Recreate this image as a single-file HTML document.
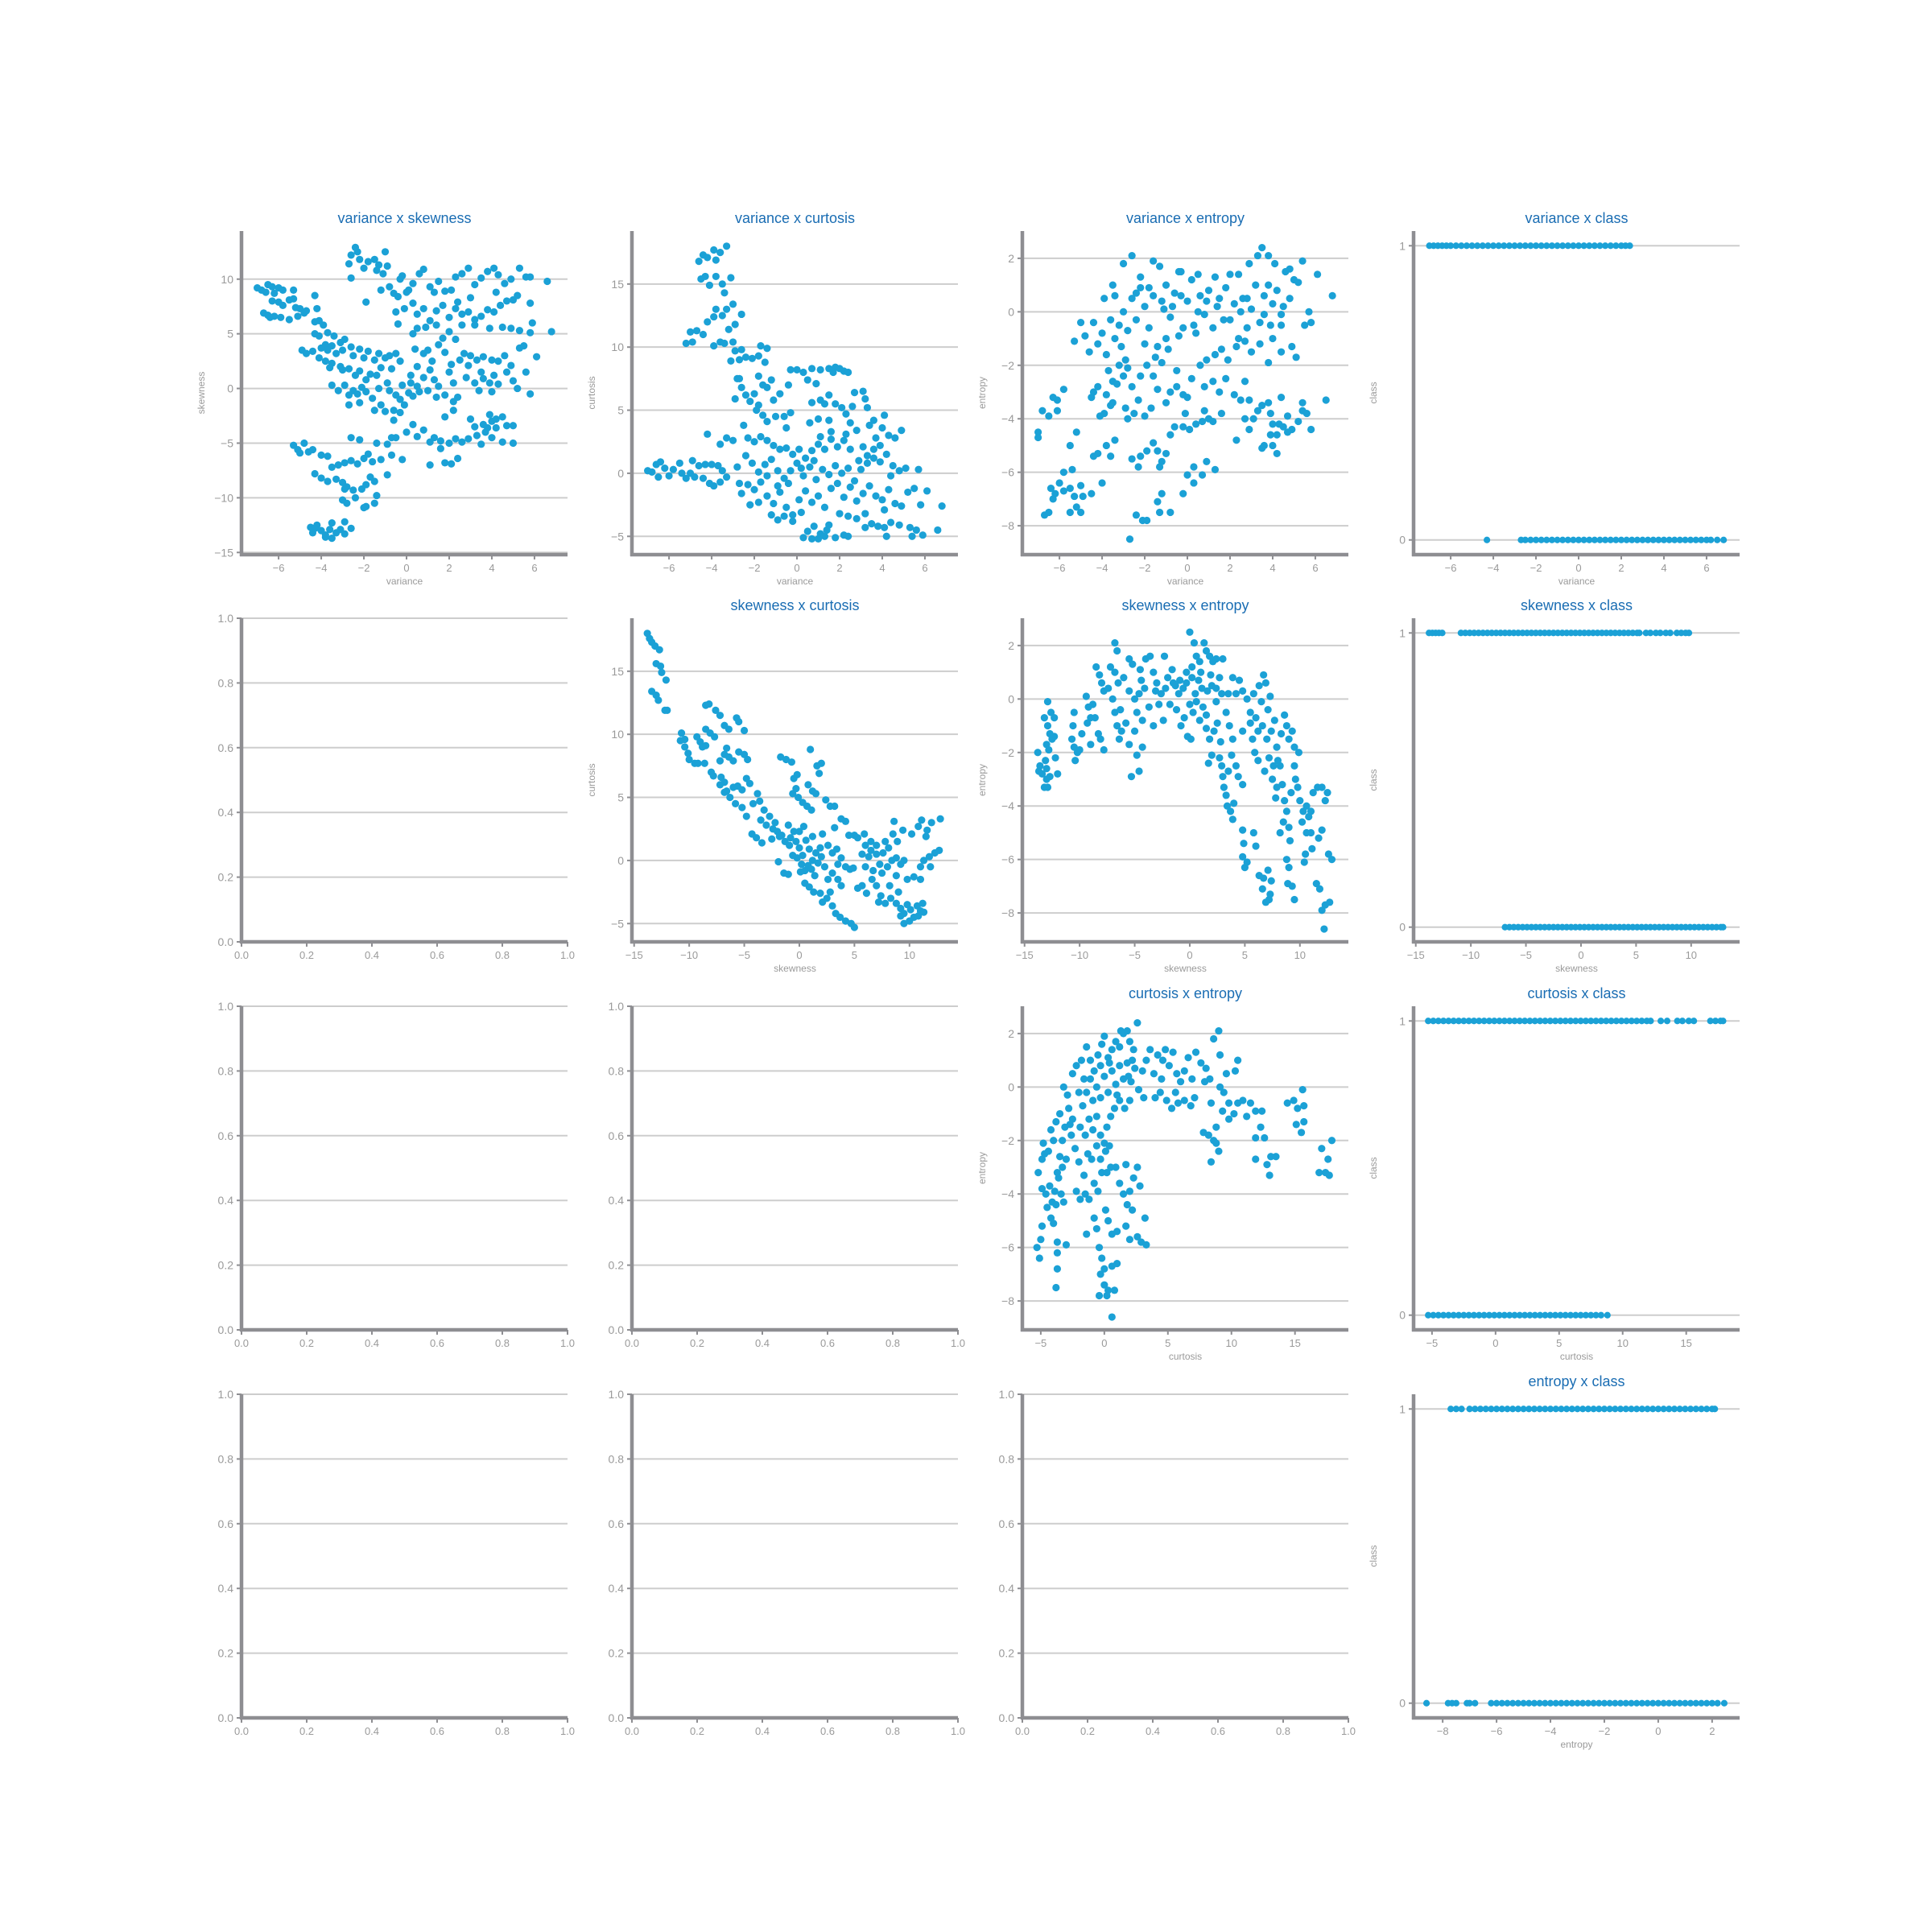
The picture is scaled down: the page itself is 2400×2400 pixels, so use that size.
<!DOCTYPE html>
<html><head><meta charset="utf-8"><title>Pairwise scatter plots</title>
<style>
html,body{margin:0;padding:0;background:#fff;}
svg{display:block;font-family:"Liberation Sans","DejaVu Sans",sans-serif;}
</style></head>
<body>
<svg id="chart" width="2400" height="2400" viewBox="0 0 2400 2400" xmlns="http://www.w3.org/2000/svg"></svg>
<script>
// ---------- DATA ----------
const varSkewPts = [[-7,9.2],[-6.8,9],[-6.5,9.5],[-6.3,9.3],[-6,9.2],[-5.8,9],[-6.6,8.8],[-6.2,8.7],[-6.3,8],[-6,7.9],[-5.8,7.6],[-5.5,8.1],[-5.3,8.2],[-5.2,7.4],[-5,7.3],[-4.8,6.9],[-5.1,6.6],[-6.7,6.9],[-6.5,6.7],[-6.4,6.5],[-6.2,6.6],[-5.9,6.5],[-5.5,6.3],[-4.7,7.1],[-4.3,8.5],[-5.3,9],[-4.2,7.3],
[-4.3,6.1],[-4.1,6.2],[-3.9,5.8],[-4.3,5],[-4.1,4.8],[-3.7,5.1],[-3.4,4.8],[-3.8,4],[-3.5,3.9],[-3.1,4.2],[-2.9,4.5],[-2.6,3.8],[-2.2,3.6],[-1.8,3.4],[-1.3,3.2],[-0.8,3],[-0.5,3.2],[-4.9,3.5],[-4.7,3.2],[-4.4,3.4],[-4,3.7],[-3.7,3.5],[-3.3,3.2],[-3,3.5],[-2.5,3],[-2,2.8],[-1.5,2.6],[-1,2.8],[-0.3,2.5],[-4.1,2.8],[-3.8,2.5],[-3.5,2.3],[-3.1,2],[-2.7,1.8],[-2.2,1.6],[-1.7,1.3],[-1.2,1.9],[-0.7,1.8],[-3.6,1.9],[-3,1.7],[-2.4,1.2],[-1.9,0.8],[-1.4,1.2],[-0.9,0.5],
[-3.5,0.3],[-3.2,-0.2],[-2.9,0.3],[-2.7,-0.6],[-2.5,-0.2],[-2.3,-0.5],[-2.1,0.1],[-1.9,-0.3],[-1.6,-0.9],[-1.3,0],[-1.2,-1.5],[-1.5,-2],[-1,-2.1],[-2.7,-1.5],[-2.2,-1.3],[-0.8,-0.2],[-0.5,-0.6],[-0.3,-1],[-0.1,-1.5],[0.1,-0.4],[0.3,-0.7],[0.5,0.2],[0.2,0.5],[-0.2,0.3],[-0.6,-2],[-0.3,-2.2],
[0.2,1.2],[0.5,2],[0.8,1],[1,3.5],[1.2,2.5],[1.5,4],[1.8,3.3],[2,1.5],[2.2,0.5],[1.5,0.2],[0.8,3.2],[0.4,3.6],[1.7,4.6],[2.3,4.5],[1.3,0.8],[1,-0.2],[1.8,-0.6],[2.2,-1.2],[2.5,2.6],[2.7,3.2],[3,3],[3.3,2.6],[3.6,2.9],[4,2.6],[4.3,2.5],[4.6,3],[4.9,2.1],[2.8,1],[3.2,0.5],[3.6,0.9],[3.9,0.5],[4.1,1.2],[4.3,0.4],[4.7,1.5],[5,0.7],[5.2,0],[5.3,3.7],[5.5,3.9],[5.6,1.5],[5.8,-0.5],[6.1,2.9],[3.4,-0.2],[4,-0.3],[2.4,-0.8],[2.9,2.1],[3.5,1.5],[1.4,-0.8],[0.6,-0.3],[2.1,2.2],[1.1,1.7],
[-0.2,10.3],[0.1,9],[0.3,9.6],[0.6,10.5],[0.8,10.9],[1.1,9.3],[1.3,8.8],[1.5,9.8],[1.8,8.9],[2.1,9],[2.3,10.2],[2.6,10.5],[2.9,11],[3.2,9.5],[3.5,10.1],[3.8,10.7],[4.1,11],[4.3,10.4],[4.6,9.6],[4.9,10],[5.3,11],[5.6,10.2],[5.8,10.2],[6.6,9.8],[-0.4,8.4],[-0.1,7.3],[0.3,7.8],[0.5,6.8],[0.8,7.3],[1.1,6.2],[1.4,7.1],[1.7,7.6],[2,6.5],[2.3,7.3],[2.6,6.8],[2.9,7],[3.2,6.3],[3.5,6.6],[3.8,7.2],[4.1,7],[4.4,7.6],[4.7,8],[5,8.1],[5.2,8.5],[5.8,7.8],[5.9,6],[5.8,5.1],[6.8,5.2],[5.3,5.3],[4.9,5.5],[4.5,5.6],[3.9,5.5],[3.2,5.8],[2.6,5.8],[2,5.2],[1.4,5.8],[0.9,5.6],[0.3,5],[-0.4,5.9],[-0.5,7],[0,8.8],[4.2,8.8],[3,8.3],[2.4,7.9],[0.5,5.5],
[-2.6,10.1],[-2.7,11.4],[-2.6,12.2],[-2.3,12.5],[-2.4,12.9],[-2.2,11.8],[-2,11],[-1.8,11.6],[-1.5,11.8],[-1.3,11.3],[-1.4,10.8],[-1.1,10.5],[-0.9,11.2],[-1,12.5],[-0.8,9.3],[-0.6,8.7],[-1.2,9],[-1.9,7.9],[-0.3,10],
[3,-2.8],[3.2,-3.5],[3.6,-3.3],[3.9,-2.4],[4,-3],[4.2,-3.6],[4.5,-2.6],[4.7,-3.4],[3.7,-4],[3.3,-4.3],[2.9,-4.6],[2.6,-4.9],[2.3,-4.6],[2,-5],[1.6,-4.8],[1.3,-4.5],[1.1,-4.9],[4,-4.5],[4.5,-4.9],[5,-5],[5,-3.4],[3.5,-5.1],[2.4,-6.4],[2.1,-6.9],[1.8,-6.8],[1.6,-5.5],[1.1,-7],[0.8,-3.8],[0.5,-4.4],[0.3,-3.3],[0,-4],[-0.2,-6.5],[1.8,-2.6],[2.2,-2],[4.2,-2.8],[3.8,-3.6],
[-5.3,-5.2],[-5.1,-5.6],[-4.8,-5],[-5,-5.9],[-4.6,-5.8],[-4.4,-5.6],[-4,-6.1],[-3.7,-6.2],[-3.5,-7.2],[-3.2,-7],[-2.9,-6.8],[-2.6,-6.6],[-2.3,-6.9],[-2,-6.4],[-1.8,-6],[-1.6,-6.7],[-1.4,-5],[-2.6,-4.5],[-2.2,-4.7],[-1.2,-6.5],[-0.9,-5.1],[-0.7,-4.5],[-0.7,-6.1],[-0.9,-7.9],[-0.5,-4.5],[-0.6,-2.9],[-4.3,-7.8],[-4,-8.2],[-3.7,-8.5],[-3.3,-8.3],[-3,-8.6],[-2.8,-9],[-2.5,-9.3],[-2.1,-9.2],[-1.9,-8.8],[-1.7,-8.1],[-1.5,-8.5],[-1.4,-9.8],[-1.5,-10.5],[-1.9,-10.8],[-2,-10.9],[-2.4,-10],[-2.8,-10.5],[-3,-10.2],[-2.9,-9.2],
[-4.5,-12.7],[-4.4,-13.2],[-4.2,-12.5],[-4,-13],[-3.8,-13.4],[-3.6,-12.9],[-3.5,-12.3],[-3.3,-13.2],[-3.1,-12.9],[-2.9,-13.3],[-2.9,-12.2],[-2.6,-12.8],[-3.8,-13.6],[-3.5,-13.7],[-4.3,-12.8]];

const varCurtPts = [[-7,0.2],[-6.8,0.1],[-6.6,0.7],[-6.4,0.9],[-6.2,0.4],[-6,-0.2],[-5.8,0.3],[-5.5,0.8],[-5.4,0],[-5.2,-0.4],[-5,0],[-4.8,-0.3],[-4.9,1],[-4.6,0.6],[-4.3,0.7],[-4,0.7],[-3.7,0.6],[-3.5,0.2],[-4.4,-0.4],[-4.1,-0.8],[-3.9,-1],[-3.6,-0.7],[-3.3,-0.3],[-6.5,-0.3],[-4.2,3.1],[-3.6,2.3],[-3.3,2.8],[-3,2.6],[-2.8,0.5],[-2.7,-0.8],
[-5.2,10.3],[-4.9,10.4],[-5,11.2],[-4.7,11.3],[-4.4,11],[-4.2,12],[-3.9,12.4],[-3.8,13],[-3.5,12.5],[-3.3,13],[-4.5,15.4],[-4.3,15.6],[-4.1,14.9],[-3.8,15.6],[-3.5,15],[-3.4,14.3],[-3.1,15.5],[-4.6,16.8],[-4.4,17.3],[-4.2,17.1],[-3.9,17.7],[-3.6,17.5],[-3.3,18],[-3.8,16.9],[-3,13.4],[-2.6,12.6],[-3.9,10.1],[-3.6,10.4],[-3.4,10.3],[-3.2,11.4],[-2.9,11.8],[-3,10.4],[-2.9,9.7],[-3.1,8.9],[-2.7,9],[-2.4,9.2],[-2.1,9.1],[-1.8,9.3],[-1.7,10.1],[-1.4,9.9],[-1.5,8.8],[-2.6,9.8],
[-2.8,7.5],[-2.6,6.8],[-2.4,6.2],[-2.2,5.7],[-2,6.3],[-1.8,7.7],[-1.6,7],[-1.4,6.8],[-1.2,7.4],[-1.8,5.4],[-1.6,4.6],[-1.4,4.1],[-1,4.5],[-0.6,4.5],[-0.3,4.8],[-0.8,6.3],[-0.4,7],[-0.3,8.2],[0,8.2],[0.3,8],[0.5,7.4],[-0.5,3.6],[-2.9,5.9],[-2.7,7.5],[-1.9,5],[-1.1,5.8],
[1.5,8.3],[1.8,8.4],[2,8.3],[2.2,8.1],[2.4,8],[1.7,8],[1.1,8.2],[0.7,8.3],[0.9,7.1],[0.7,5.6],[1.1,5.8],[1.3,5.5],[1.5,6.2],[1.8,5.5],[2.1,5.2],[2.3,4.7],[2.6,5.3],[2.7,6.4],[3.1,6.5],[3.2,5.9],[3.3,5.2],[0.6,4],[1,4.3],[1.5,4.2],
[-2.5,3.8],[-2.3,2.8],[-2,2.5],[-1.7,2.9],[-1.4,2.6],[-1.1,2.2],[-0.8,1.9],[-0.5,2],[-0.2,1.5],[0.1,1.9],[0.4,1.2],[0.7,1.8],[1,2.3],[1.3,1.9],[1.6,2.7],[1.9,2.1],[2.2,2.6],[2.5,1.9],[2.8,3.4],[3.1,2.1],[3.4,3.8],[3.7,2.8],[4,3.6],[4.3,3],[4.6,2.8],[4.9,3.4],[3.6,4.2],[4.1,4.6],[-2.4,1.4],[-2.1,0.8],[-1.8,0.1],[-1.5,0.7],[-1.2,1.1],[-0.9,0.2],[-0.6,-0.4],[-0.3,0.2],[0,0.8],[0.3,-0.2],[0.6,0.5],[0.9,-0.5],[1.2,0.3],[1.5,-0.1],[1.8,0.6],[2.1,0],[2.4,0.4],[2.7,-0.6],[3,0.3],[3.3,0.8],[3.6,1.2],[3.9,0.9],[4.2,1.5],[4.5,0.6],[4.8,0.2],[5.1,0.4],[5.7,0.3],[-2.3,-0.9],[-2,-1.3],[-1.7,-0.7],[-1.4,-1.8],[-1.1,-2.4],[-0.8,-1.5],[-0.5,-2.7],[-0.2,-3.3],[0.1,-2.1],[0.4,-1.4],[0.7,-2.3],[1,-1.8],[1.3,-2.7],[1.6,-1.2],[1.9,-0.8],[2.2,-1.9],[2.5,-1.1],[2.8,-2.2],[3.1,-1.6],[3.4,-1],[3.7,-1.8],[4,-2.1],[4.3,-1.3],[4.6,-2.4],[4.9,-2.6],[5.2,-1.5],[5.5,-1.2],[5.8,-2.5],[6.1,-1.4],[6.8,-2.6],[-2.6,-1.6],[-2.2,-2.5],[-1.8,-2.3],[-1.2,-3.3],[-0.9,-3.7],[-0.6,-3.4],[-0.2,-3.8],[0.2,-3.1],[0.5,-4.6],[0.8,-4.2],[1.1,-4.8],[1.4,-4.5],[0.3,-5.1],[0.7,-5.2],[1,-5.2],[1.3,-5],[1.8,-5.1],[2.2,-4.9],[2.4,-5],[1.5,-4.1],[2,-3.2],[2.4,-3.4],[2.8,-3.6],[3.2,-3.2],[3.5,-4],[3.8,-4.2],[4.1,-4.3],[4.4,-3.9],[4.8,-4.1],[5.3,-4.3],[5.6,-4.5],[5.9,-4.9],[6.6,-4.5],[4.2,-5],[5.4,-5],[3.2,-4.3],[4.1,-2.9],[3.9,2.2],[3.6,1.9],[3.3,1.4],[4.4,-0.2],[2.9,1],[0.8,1],[-0.4,-0.8],[-1.4,-0.2],[1.1,2.9],[1.6,3.3],[2.5,4],[2.3,3.1],[0.2,0.4],[-0.9,-1]];

const varEntPts = [[-7,-4.5],[-7,-4.7],[-6.8,-3.7],[-6.5,-3.9],[-6.3,-3.2],[-6.1,-3.3],[-6.1,-3.7],[-5.8,-2.9],[-6.2,-6.8],[-6,-6.4],[-5.8,-6],[-5.8,-6.7],[-6.7,-7.6],[-6.5,-7.5],[-6.4,-6.6],[-6.3,-7],[-5.5,-6.6],[-5.4,-5.9],[-5.5,-5],[-5.2,-4.5],[-5.3,-6.9],[-5.2,-7.3],[-5,-7.5],[-5.5,-7.5],[-5,-6.5],[-4.9,-6.9],[-4.5,-6.8],[-4.4,-5.4],[-4.2,-5.3],[-4,-6.4],[-3.8,-5],[-3.6,-5.4],[-3.4,-4.8],[-4.1,-3.9],[-3.9,-3.8],[-3.6,-3.5],[-3.5,-3.4],[-4.4,-3],[-4.5,-3.2],[-4.2,-2.8],[-3.8,-3.1],[-3.7,-2.2],[-3.5,-2.6],[-3.3,-2.7],[-3.2,-2],[-3,-2.4],[-2.8,-2.1],[-2.9,-3.6],[-2.8,-4],[-2.6,-5.5],[-2.3,-5.8],[-2.2,-5.4],[-2.4,-7.6],[-2.1,-7.8],[-1.9,-7.8],[-2.7,-8.5],[-1.9,-5.2],[-1.6,-4.9],[-1.4,-5.2],[-1.2,-5.6],[-1.3,-5.8],[-1.4,-7.1],[-1.2,-6.8],[-0.8,-7.5],[-1.3,-7.5],[-1,-5.3],[-0.8,-4.6],[-0.2,-6.8],[0,-6.1],[0.3,-5.8],[0.3,-6.4],[0.7,-6.1],[0.9,-5.6],[1.3,-5.9],[-0.6,-4.3],[-0.2,-4.3],[0.1,-4.4],[-0.1,-3.8],[0.4,-4.2],[0.7,-4.1],[1,-4],[1.2,-4.1],[0.8,-3.7],[-2.5,-3.8],[-2.3,-3.3],[-2,-3.9],[-1.7,-3.6],[-1.4,-2.9],[-1,-3.4],[-0.8,-3],[-0.5,-2.8],[-0.2,-3.1],[0.2,-2.5],[0,-3.2],[-2.6,-2.8],[-2.2,-2.4],[-1.9,-2],[-1.6,-2.4],[-1.2,-1.9],[-0.5,-2.2],[0.6,-2],[0.8,-2.8],[1.2,-2.6],[1.5,-3],[1.8,-2.5],[2.2,-3.1],[2.5,-3.3],[2.7,-2.6],[2.9,-3.3],[1.6,-3.8],
[-5.3,-1.1],[-5,-0.4],[-4.8,-0.9],[-4.6,-1.5],[-4.4,-0.4],[-4.2,-1.2],[-4,-0.8],[-3.8,-1.6],[-3.6,-0.3],[-3.4,-1],[-3.2,-0.5],[-3,0],[-3.1,-1.3],[-2.8,-0.7],[-2.6,0.5],[-2.4,-0.3],[-2.2,0.9],[-2,0.2],[-1.8,-0.6],[-1.6,0.6],[-1.4,-1.3],[-1.2,0.4],[-1,1],[-0.8,-0.2],[-0.6,0.7],[-0.4,1.5],[-0.2,-0.6],[0,0.4],[0.2,1.2],[0.4,-0.8],[0.6,0.6],[0.8,-0.1],[1,0.8],[1.2,-0.6],[1.4,0.2],[1.6,-1.4],[1.8,0.9],[2,-0.3],[2.2,0.3],[2.4,-1],[2.6,0.5],[2.8,-0.6],[3,0.1],[3.2,1],[3.4,-0.4],[3.6,0.6],[3.8,1],[4,0.3],[4.2,0.8],[4.4,-0.5],[4.6,1.5],[4.8,0.5],[5,1.2],[5.2,1.1],[5.5,-0.5],[5.7,0],[5.8,-0.4],[6.1,1.4],[6.8,0.6],[3.5,2.4],[3.3,2.1],[3.8,2.1],[4.1,1.8],[4.8,1.6],[5.4,1.9],[2.9,1.8],[-2.6,2.1],[-3,1.8],[-1.6,1.9],[-1.3,1.7],[-2.2,1.3],[-0.3,1.5],[0.5,1.4],[1.3,1.3],[2,1.4],[2.4,1.4],[-3.5,1],[-3.4,0.6],[-3.9,0.5],[-1.5,-1.7],[-0.9,-1.4],[-0.4,-0.9],[0.3,-0.5],[0.9,-1.8],[1.3,-1.6],[1.9,-1.8],[2.3,-1.3],[2.7,-1.1],[3,-1.5],[3.4,-1.2],[4,-1],[4.4,-1.5],[4.9,-1.3],[5.1,-1.7],[3.8,-1.9],[-2.9,-1.8],[-1,-1],[0.5,0],[1.5,0.5],[2.5,0],[-2,-1.2],[4.4,-0.1],[3.6,-0.1],[-1.8,0.9],[-1.1,0.1],[-0.3,0.6],[0.9,0.4],[1.7,-0.3],[2.8,0.5],[3.9,-0.5],[4.5,0.2],[-2.4,0.7],[-0.7,0.2],
[3.3,-3.7],[3.5,-3.5],[3.8,-3.4],[3.9,-3.8],[4,-4.2],[4.2,-4.6],[4,-5],[3.9,-4.6],[3.5,-5.1],[3.6,-5],[4.3,-4.2],[4.5,-4.3],[4.7,-3.9],[4.9,-4.4],[4.7,-4.5],[5.2,-4.1],[5.4,-3.7],[5.6,-3.8],[5.8,-4.4],[5.4,-3.4],[4.4,-3.2],[2.7,-4],[2.9,-4.4],[3.1,-4],[2.3,-4.8],[6.5,-3.3],[4.2,-5.3]];

const skewCurtPts = [[-13.8,18],[-13.6,17.6],[-13.4,17.3],[-13.1,17],[-12.7,16.7],[-13,15.6],[-12.6,15.4],[-12.5,14.9],[-12.1,14.3],[-13.4,13.4],[-13,13.1],[-12.8,12.7],[-12,11.9],[-12.2,11.9],
[-10.7,10.1],[-10.4,9.6],[-10.8,9.5],[-10.4,9],[-10.1,8.5],[-10,8],[-9.5,7.7],[-9.2,7.7],[-9.3,9.8],[-9,9.4],[-8.8,9],[-8.5,9.1],[-8.6,7.7],[-8,7],[-7.8,6.7],[-8.5,12.3],[-8.2,12.4],[-7.6,11.9],[-7.2,11.5],[-6.8,10.7],[-6.4,10.4],[-5.7,11.3],[-5.5,11],[-5,10.3],[-8.5,10.4],[-8.1,10.1],[-7.7,9.8],[-7.2,7.9],[-6.8,8.4],[-6.6,8.9],[-6.4,8.2],[-6,7.9],[-5.5,8.6],[-5,8.4],[-4.7,8],[-7.1,6.6],[-6.8,6.2],[-6.6,5.5],[-6.3,5],[-6,5.8],[-5.6,5.9],[-5.2,5.6],[-4.8,6.5],[-4.5,6.1],[-7.2,6],[-6.8,5.4],[-5.8,4.5],[-5.2,4.2],[-4.8,3.5],[-4.2,4.5],[-3.8,5.3],[-3.6,4.7],[-3.2,4],[-3.5,3.2],[-3,2.8],[-2.7,3.5],[-2.4,2.5],[-2,2.3],[-1.6,2],[-1.3,1.5],[-0.9,1.2],[-4.3,2.1],[-3.9,1.8],[-3.4,1.4],[-2.5,1.7],[-1.8,1.9],[-1,2.8],[-0.5,2.3],[-0.3,1.5],[0,1],[0.3,0.4],[0.6,1.6],[0.9,0.9],[1.2,1.9],[1.5,0.6],[0.2,-0.3],[-0.2,0.2],[0.5,-0.8],[0.8,-0.4],[1.1,-0.7],[1.4,-1.2],[1.7,-0.2],[2,0.3],[2.3,-0.5],[0.5,-1.8],[0.9,-2.1],[1.3,-2.5],[1.9,-2.6],[2.1,-3.3],[2.5,-3],[3,-3.6],[3.3,-4.2],[3.7,-4.5],[4.2,-4.8],[4.7,-5],[5,-5.3],[-1.9,-0.1],[-1.4,-1],[-1,-1.1],[-1.7,8.2],[-1.2,8],[-0.7,7.8],[-0.5,6.5],[-0.2,6.8],[1,8.8],[1.6,7.5],[1.8,6.9],[2,7.7],[0.8,6],[1.2,5.5],[1.5,5.3],[-0.6,5.3],[-0.3,5.7],[-0.1,5],[0.3,4.6],[0.7,4.3],[1.1,4],[2.4,4.8],[2.8,4.3],[3.2,4.3],[3.8,3.3],[4.2,3.1],[2.1,2.1],[2.6,1.2],[3,0.6],[3.4,0.9],[3.8,0.2],[4.2,-0.5],[4.6,-0.7],[4.9,-0.6],[5.3,-2.2],[5.7,-2],[6.1,-2.6],[3,-1],[3.5,-1.5],[3.8,-2],[2.8,-2.5],[3.2,2.6],[4.5,2],[5.3,1.8],[5.9,2.1],[6.5,1.5],[7,1.2],[5.7,0.5],[6,-0.5],[6.3,0.3],[6.7,-0.8],[7,0.5],[7.3,-0.3],[7.6,0.6],[8,-0.5],[8.4,0],[8.8,0.2],[9.2,-0.3],[9.5,0],[6.6,-1.5],[7,-2],[7.4,-2.8],[7.8,-3.4],[8.3,-3],[8.8,-3.4],[9.2,-3.8],[9.5,-4.2],[9.8,-3.5],[10.1,-3.9],[10.4,-4.5],[10.7,-3.6],[11,-4],[11.2,-3.4],[10,-4.8],[9.5,-5],[9.2,-4.4],[10.8,-4.4],[11.3,-4.1],[9.8,-1.5],[10.4,-1.3],[11,-1.5],[8.8,-1.2],[8.9,1.5],[8.5,2.1],[8.6,3.1],[9.4,2.4],[10.2,2.1],[10.8,2.7],[11.1,3.2],[11.6,2.4],[12,3],[12.8,3.3],[11.5,1.9],[11.3,0],[11.8,0.3],[12.3,0.6],[12.7,0.8],[11,-0.5],[11.9,-0.5],[7.2,-3.3],[5,2],[7.8,1.5],[8.1,1],[6,1.2],[0,2.3],[0.4,2.7],[-0.6,0.4],[1.2,0],[2.6,-1.5],[1.9,1],[3.5,-0.3],[6.5,0.8],[7.5,-1],[8.2,-2],[9,-2.5],[0.1,-0.9],[-0.8,1.8],[-2.2,3]];

const skewEntPts = [[-13.8,-2],[-13.6,-2.5],[-13.7,-2.7],[-13.4,-2.8],[-13.2,-3.3],[-12.9,-3.3],[-13,-3],[-12.7,-2.9],[-13,-2.6],[-12.8,-1.9],[-13,-1.7],[-12.9,-1],[-12.7,-1.3],[-12.5,-1.5],[-12.3,-1.4],[-13.2,-0.7],[-12.6,-0.5],[-12.3,-0.7],[-12.9,-0.1],[-12.2,-2.2],[-12,-2.8],[-13.1,-2.3],
[-10.7,-1.5],[-10.5,-1.8],[-10.4,-2.3],[-10.2,-2],[-10,-1.9],[-10.5,-0.5],[-10.6,-1],[-9.8,-1.3],[-9.4,0.1],[-9.2,-0.3],[-9,-0.7],[-8.8,-0.2],[-8.6,-0.7],[-9.3,-0.9],[-9,-1.7],[-8.3,-1.3],[-8.1,-1.5],[-7.8,-1.9],[-8.5,1.2],[-8.2,0.9],[-8,0.6],[-7.8,0.3],[-7.4,0.4],[-7.2,1.2],[-7,0],[-6.8,2.1],[-6.6,1.8],[-6.8,1],[-6.5,0.6],[-6.3,-0.4],[-6,0.8],[-6.8,-0.5],[-6.6,-1],[-6.2,-1.2],[-6.4,-1.5],[-5.8,-0.9],[-5.5,0.3],[-5.5,1.5],[-5.2,1.3],[-5,0],[-4.8,-0.5],[-4.6,0.2],[-4.5,1.1],[-4.3,-0.8],[-4.1,0.4],[-5.5,-1.7],[-5.3,-2.9],[-4.6,-2.7],[-4.8,-2.1],[-4.3,-1.8],[-5,-1.2],[-4,1.5],[-3.6,1.6],[-3.3,1],[-3,0.6],[-2.6,0.2],[-2.3,1.6],[-2,0.8],[-1.6,1.1],[-1.3,0.5],[-1,0.2],[-0.6,0.4],[-0.3,1],[0,2.5],[0.2,1.2],[0.4,2.1],[0.6,1.6],[0.8,0.7],[1,1],[1.3,2.1],[1.5,1.8],[1.8,1.6],[2.1,1.4],[2.4,1.5],[2.7,0.8],[3,1.5],[-3.7,-0.3],[-3.3,-1],[-2.8,-0.2],[-2.4,-0.8],[-1.8,-0.2],[-1.2,-0.4],[-0.5,-0.7],[-0.8,-1],[0,-0.2],[0.3,-0.5],[0.6,-0.1],[0.9,-0.8],[1.2,-0.3],[1.5,-0.6],[-0.2,-1.4],[0.1,-1.5],[1.5,-1.1],[1.8,-1.5],[2,-2.1],[2.2,-1.2],[2.5,-0.9],[2.8,-1.6],[1.7,-2.4],[2.7,-2.2],[2.9,-2.5],[3,-2.9],[3.1,-3.3],[3.3,-3.6],[3.4,-4],[3.7,-4.2],[3.9,-4.5],[4,-3.9],[3.5,-2.7],[3.8,-2.1],[4.2,-2.5],[4.4,-2.9],[3.9,-1.5],[3.6,-1],[3.3,-0.5],[3.5,0.2],[3.9,0.8],[4.2,0.2],[4.5,0.7],[4.8,0.3],[2.9,0.2],[2.4,-0.1],[2,0.5],[1.6,0.3],[4.8,-3.2],[4.8,-4.9],[4.9,-5.4],[4.8,-5.9],[5,-6.3],[5.2,-6.1],[5.8,-5],[6,-5.5],[6.3,-6.6],[6.7,-6.7],[6.6,-7.1],[6.9,-7.6],[7.2,-7.5],[7.3,-7.3],[7.4,-6.8],[7.1,-6.4],
[5.2,0],[5.5,-0.5],[5.8,0.2],[6,-0.7],[6.3,0.5],[6.5,-0.1],[6.7,0.9],[6.9,0.6],[7.1,-0.4],[7.3,0.1],[6.2,-1.2],[6.6,-1],[7,-1.5],[7.4,-1.2],[7.7,-0.8],[7.9,-1.8],[8.3,-1.3],[8.6,-0.6],[8.8,-1],[9,-1.5],[9.3,-1.2],[9.5,-1.8],[8,-2.3],[8.2,-2.5],[7.6,-2.5],[7.2,-2.2],[6.8,-2.7],[6.2,-2.3],[5.9,-2],[7.5,-3],[7.9,-3.3],[8.4,-3.2],[7.8,-3.7],[8.6,-3.8],[8.8,-4.2],[9.2,-3.5],[9.6,-3],[9.8,-3.3],[10,-3.8],[10.3,-4.2],[10.6,-4],[10.8,-4.4],[11,-4.2],[11.2,-3.5],[11.6,-3.3],[12,-3.3],[12.5,-3.5],[10.2,-4.6],[10.6,-5],[11,-5],[10.5,-5.8],[10.4,-6.1],[11.1,-5.6],[11.7,-5.2],[12,-4.9],[12.3,-3.8],[12.6,-5.8],[12.9,-6],[9,-4.8],[9.1,-5.3],[8.5,-4.6],[8.2,-5],[8.8,-6],[9,-6.3],[8.9,-6.9],[9.3,-7],[9.5,-7.5],[11.5,-6.9],[11.8,-7.1],[12,-7.9],[12.3,-7.7],[12.7,-7.6],[12.2,-8.6],[9.5,-2.5],[9.9,-2],[5.5,-0.9],[5.7,-1.5],[4.8,-1.2],[-0.3,0.6],[0.5,0.2],[1.1,0.4],[-1.5,0.6],[-2.2,0.4],[0.9,1.4],[0.2,0.8],[1.9,0.9],[-3.1,0.3],[-4.4,0.7],[2.4,0.4],[-0.9,0.7]];

const curtEntPts = [[-5.3,-6],[-5.1,-6.4],[-5,-5.7],[-4.9,-5.2],[-5.2,-3.2],[-4.9,-2.7],[-4.7,-2.5],[-4.4,-2.4],[-4.8,-2.1],[-4.9,-3.8],[-4.6,-4],[-4.5,-4.5],[-4.3,-3.7],[-4.1,-4.3],[-3.9,-3.9],[-4.2,-4.9],[-4,-5.1],[-3.8,-4.4],[-3.6,-3.4],[-3.4,-4],[-3.2,-4.3],[-3.7,-3.2],[-3.3,-3],[-3,-2.7],[-3.5,-2.6],[-4,-2],[-4.2,-1.6],[-3.8,-1.3],[-3.5,-1],[-3.1,-1.5],[-2.8,-0.8],[-2.5,-1.2],[-2.9,-0.3],[-3.2,0],[-2.5,0.5],[-2.2,0.8],[-1.8,1],[-1.4,1.5],[-2,-0.2],[-1.7,-0.7],[-1.4,-0.2],[-1.1,0.3],[-0.8,0.6],[-0.5,1.2],[-0.2,1.6],[0,1.9],[0.3,1.1],[0.6,1.4],[0.9,1.7],[1.2,1.5],[1.5,2],[1.8,2.1],[2,1.7],[2.3,1.4],[2.6,2.4],[-0.6,0],[-0.3,-0.4],[0,0.4],[0.3,-0.2],[0.6,0.6],[0.9,0.1],[1.2,0.8],[1.5,0.3],[1.8,0.9],[2.1,0.2],[2.4,0.7],[2.7,-0.1],[3,0.6],[3.3,1],[3.6,1.4],[3.9,0.5],[4.2,1.2],[4.5,0.3],[4.8,1.4],[5.1,0.8],[5.4,1.3],[5.7,0.5],[6,0.2],[6.3,0.6],[6.6,1.1],[6.9,0.3],[7.2,1.3],[7.6,0.9],[8,0.7],[8.3,0.3],[8.6,1.8],[9,2.1],[9.1,1.2],[4,-0.4],[4.4,-0.2],[4.9,-0.5],[5.3,-0.8],[5.8,-0.6],[6.3,-0.5],[6.8,-0.7],[7.1,-0.4],[-1.9,-1.5],[-1.5,-1.8],[-1.2,-1.2],[-0.9,-1.6],[-0.6,-1.1],[-0.3,-1.8],[0,-2.1],[0.2,-1.5],[0.5,-1.1],[0.8,-0.8],[1.2,-0.5],[1.6,-0.8],[2,-0.5],[-2.3,-2.3],[-2,-2.8],[-1.6,-3.3],[-1.3,-2.5],[-1,-2.7],[-0.6,-2.2],[-0.3,-2.7],[0.1,-2.4],[0.4,-2.2],[-2.2,-3.9],[-1.9,-4.2],[-1.5,-4],[-1.2,-4.2],[-0.8,-3.6],[-0.5,-3.9],[-0.2,-3.2],[0.2,-3.2],[0.5,-3],[0.9,-3],[1.2,-3.6],[1.5,-4],[1.7,-2.9],[2.3,-3.4],[2.6,-3],[2.8,-3.7],[2,-3.9],[2.2,-4.6],[1.8,-4.4],[-1.4,-5.5],[-0.6,-5.3],[-0.8,-4.9],[0.1,-4.6],[0.3,-5],[0.6,-5.5],[1,-5.4],[1.7,-5.2],[2,-5.7],[2.6,-5.6],[2.9,-5.8],[3.3,-5.9],[3.2,-4.9],[-0.4,-6],[-0.2,-6.4],[0,-6.8],[-0.3,-7],[0,-7.4],[0.3,-7.6],[0.6,-6.7],[1,-6.6],[0.8,-7.6],[-0.4,-7.8],[0.2,-7.8],[0.6,-8.6],[-3.7,-5.8],[-3.7,-6.2],[-3.7,-6.8],[-3.8,-7.5],[-3,-5.9],[7.8,-1.7],[8.2,-1.8],[8.6,-2],[8.8,-2.1],[9,-2.4],[8.4,-2.8],[8.8,-1.5],[9.3,-0.9],[9.8,-0.6],[10.2,-1],[10.5,-0.6],[10.9,-0.5],[11.2,-1.1],[11.5,-0.6],[11.9,-0.9],[11.9,-1.9],[12.3,-1.5],[12.6,-1.9],[11.9,-2.7],[12.8,-2.9],[13.1,-2.6],[13.5,-2.6],[13,-3.3],[12.4,-0.9],[10.3,0.6],[10.5,1],[9.6,0.5],[9.1,0],[9.4,-0.2],[14.4,-0.6],[14.9,-0.5],[15.2,-0.8],[15.6,-0.1],[15.7,-0.7],[15.7,-1.3],[15.1,-1.4],[15.5,-1.7],[16.9,-3.2],[17.1,-2.3],[17.4,-3.2],[17.6,-2.7],[17.7,-3.3],[17.9,-2],[7.9,0.2],[8.4,-0.6],[9.8,-1.2],[-1.6,0.3],[-0.9,-0.5],[0.4,0.9],[1,-0.3],[1.9,0.4],[3.1,-0.4],[-2.6,-1.8],[-1.1,1],[2.2,1],[4.6,1],[5.6,-0.2],[-3.3,-2],[-2.7,-1.4],[1.3,2.1],[-0.3,0.8]];

const varClass1 = [-7,-6.8,-6.6,-6.4,-6.2,-6,-5.75,-5.5,-5.25,-5,-4.75,-4.5,-4.25,-4,-3.75,-3.5,-3.25,-3,-2.75,-2.5,-2.25,-2,-1.75,-1.5,-1.25,-1,-0.75,-0.5,-0.25,0,0.25,0.5,0.75,1,1.25,1.5,1.75,2,2.2,2.4];
const varClass0 = [-4.3,-2.7,-2.5,-2.25,-2,-1.75,-1.5,-1.25,-1,-0.75,-0.5,-0.25,0,0.25,0.5,0.75,1,1.25,1.5,1.75,2,2.25,2.5,2.75,3,3.25,3.5,3.75,4,4.25,4.5,4.75,5,5.25,5.5,5.75,6,6.2,6.5,6.8];
const skewClass1 = [-13.8,-13.5,-13.2,-12.9,-12.6,-10.9,-10.5,-10.1,-9.7,-9.3,-8.9,-8.5,-8.1,-7.7,-7.3,-6.9,-6.5,-6.1,-5.7,-5.3,-4.9,-4.5,-4.1,-3.7,-3.3,-2.9,-2.5,-2.1,-1.7,-1.3,-0.9,-0.5,-0.1,0.3,0.7,1.1,1.5,1.9,2.3,2.7,3.1,3.5,3.9,4.3,4.7,5.1,5.3,5.9,6.3,6.8,7.2,7.7,8.1,8.7,9.1,9.5,9.8];
const skewClass0 = [-6.9,-6.5,-6.1,-5.7,-5.3,-4.9,-4.5,-4.1,-3.7,-3.3,-2.9,-2.5,-2.1,-1.7,-1.3,-0.9,-0.5,-0.1,0.3,0.7,1.1,1.5,1.9,2.3,2.7,3.1,3.5,3.9,4.3,4.7,5.1,5.5,5.9,6.3,6.7,7.1,7.5,7.9,8.3,8.7,9.1,9.5,9.9,10.3,10.7,11.1,11.5,11.9,12.3,12.7,12.9];
const curtClass1 = [-5.3,-4.9,-4.5,-4.1,-3.7,-3.3,-2.9,-2.5,-2.1,-1.7,-1.3,-0.9,-0.5,-0.1,0.3,0.7,1.1,1.5,1.9,2.3,2.7,3.1,3.5,3.9,4.3,4.7,5.1,5.5,5.9,6.3,6.7,7.1,7.5,7.9,8.3,8.7,9.1,9.5,9.9,10.3,10.7,11.1,11.5,11.9,12.2,13,13.5,14.3,14.7,15.2,15.6,16.9,17.3,17.7,17.9];
const curtClass0 = [-5.3,-4.9,-4.5,-4.1,-3.7,-3.3,-2.9,-2.5,-2.1,-1.7,-1.3,-0.9,-0.5,-0.1,0.3,0.7,1.1,1.5,1.9,2.3,2.7,3.1,3.5,3.9,4.3,4.7,5.1,5.5,5.9,6.3,6.7,7.1,7.5,7.9,8.3,8.8];
const entClass1 = [-7.7,-7.5,-7.3,-7,-6.8,-6.6,-6.4,-6.2,-6,-5.8,-5.6,-5.4,-5.2,-5,-4.8,-4.6,-4.4,-4.2,-4,-3.8,-3.6,-3.4,-3.2,-3,-2.8,-2.6,-2.4,-2.2,-2,-1.8,-1.6,-1.4,-1.2,-1,-0.8,-0.6,-0.4,-0.2,0,0.2,0.4,0.6,0.8,1,1.2,1.4,1.6,1.8,2,2.1];
const entClass0 = [-8.6,-7.8,-7.65,-7.5,-7.1,-7,-6.8,-6.2,-6,-5.8,-5.6,-5.4,-5.2,-5,-4.8,-4.6,-4.4,-4.2,-4,-3.8,-3.6,-3.4,-3.2,-3,-2.8,-2.6,-2.4,-2.2,-2,-1.8,-1.6,-1.4,-1.2,-1,-0.8,-0.6,-0.4,-0.2,0,0.2,0.4,0.6,0.8,1,1.2,1.4,1.6,1.8,2,2.2,2.45];

const varTicks = [-6,-4,-2,0,2,4,6];
const skewTicks = [-15,-10,-5,0,5,10];
const curtTicks = [-5,0,5,10,15];
const entTicks = [-8,-6,-4,-2,0,2];
const classTicks = [0,1];
const unitTicks = [0,0.2,0.4,0.6,0.8,1];

// ---------- LAYOUT / STYLE ----------
const NS = 'http://www.w3.org/2000/svg';
const svg = document.getElementById('chart');
const colLeft = [300,785,1270,1756], rowTop = [287,768,1250,1732];
const W = 405, H = 402;
const DOT = '#1ba1d6', SPINE = '#8e8e92', GRID = '#cdcdcd', TXT = '#9a9a9a', TITLE = '#1a6db3';
const LIM = {variance:[-7.74,7.55], skewness:[-15.2,14.4], curtosis:[-6.45,19.2], entropy:[-9.08,3.02], class:[-0.05,1.05], unit:[0,1]};
const TK = {variance:varTicks, skewness:skewTicks, curtosis:curtTicks, entropy:entTicks, class:classTicks, unit:unitTicks};

function el(tag, attrs, parent){ const e=document.createElementNS(NS,tag); for(const k in attrs) e.setAttribute(k,attrs[k]); parent.appendChild(e); return e; }
function fmt(v, unit){ if(unit) return v.toFixed(1); return (v<0?'\u2212':'')+Math.abs(v); }

function panel(r, c, xv, yv, pts, strips){
  const x0=colLeft[c], y0=rowTop[r];
  const g = el('g',{},svg);
  
  
  const xl=LIM[xv], yl=LIM[yv];
  const sx = v => x0 + (v-xl[0])/(xl[1]-xl[0])*W;
  const sy = v => y0 + H - (v-yl[0])/(yl[1]-yl[0])*H;
  const unit = xv==='unit';
  TK[yv].forEach(t=>{
    const y=sy(t);
    const gl = el('line',{x1:x0,x2:x0+W,y1:y,y2:y,stroke:GRID,'stroke-width':2},g);
    
    
    el('line',{x1:x0-6,x2:x0,y1:y,y2:y,stroke:SPINE,'stroke-width':2},g);
    const tl = el('text',{x:x0-10,y:y+5,'text-anchor':'end','font-size':14,fill:TXT},g);
    tl.textContent = fmt(t, unit);
    
    
  });
  TK[xv].forEach(t=>{
    const x=sx(t);
    el('line',{x1:x,x2:x,y1:y0+H,y2:y0+H+6,stroke:SPINE,'stroke-width':2},g);
    const tl = el('text',{x:x,y:y0+H+21,'text-anchor':'middle','font-size':13,fill:TXT},g);
    tl.textContent = fmt(t, unit);
    
    
  });
  if(pts){
    pts.forEach(p=>{
      const d = el('circle',{cx:sx(p[0]),cy:sy(p[1]),r:4.6,fill:DOT},g);
      
      
    });
  }
  if(strips){
    strips.forEach(s=>{
      s.vals.forEach(v=>{
        const d = el('circle',{cx:sx(v),cy:sy(s.cls),r:4.1,fill:DOT},g);
        
        
      });
    });
  }
  const ls = el('line',{x1:x0,x2:x0,y1:y0,y2:y0+H+2,stroke:SPINE,'stroke-width':4.5},g);
  
  
  const bs = el('line',{x1:x0-2,x2:x0+W,y1:y0+H,y2:y0+H,stroke:SPINE,'stroke-width':4.5},g);
  
  
  if(!unit){
    const tt = el('text',{x:x0+W/2,y:y0-10,'text-anchor':'middle','font-size':18,fill:TITLE},g);
    tt.textContent = xv+' x '+yv;
    
    
    const xt = el('text',{x:x0+W/2,y:y0+H+37,'text-anchor':'middle','font-size':12,fill:TXT},g);
    xt.textContent = xv;
    
    
    const yt = el('text',{x:0,y:0,'text-anchor':'middle','font-size':12,fill:TXT,transform:'translate('+(x0-46)+','+(y0+H/2)+') rotate(-90)'},g);
    yt.textContent = yv;
    
    
  }
}

panel(0,0,'variance','skewness',varSkewPts);
panel(0,1,'variance','curtosis',varCurtPts);
panel(0,2,'variance','entropy',varEntPts);
panel(0,3,'variance','class',null,[{cls:1,vals:varClass1},{cls:0,vals:varClass0}]);
panel(1,0,'unit','unit');
panel(1,1,'skewness','curtosis',skewCurtPts);
panel(1,2,'skewness','entropy',skewEntPts);
panel(1,3,'skewness','class',null,[{cls:1,vals:skewClass1},{cls:0,vals:skewClass0}]);
panel(2,0,'unit','unit');
panel(2,1,'unit','unit');
panel(2,2,'curtosis','entropy',curtEntPts);
panel(2,3,'curtosis','class',null,[{cls:1,vals:curtClass1},{cls:0,vals:curtClass0}]);
panel(3,0,'unit','unit');
panel(3,1,'unit','unit');
panel(3,2,'unit','unit');
panel(3,3,'entropy','class',null,[{cls:1,vals:entClass1},{cls:0,vals:entClass0}]);
</script>
</body></html>
